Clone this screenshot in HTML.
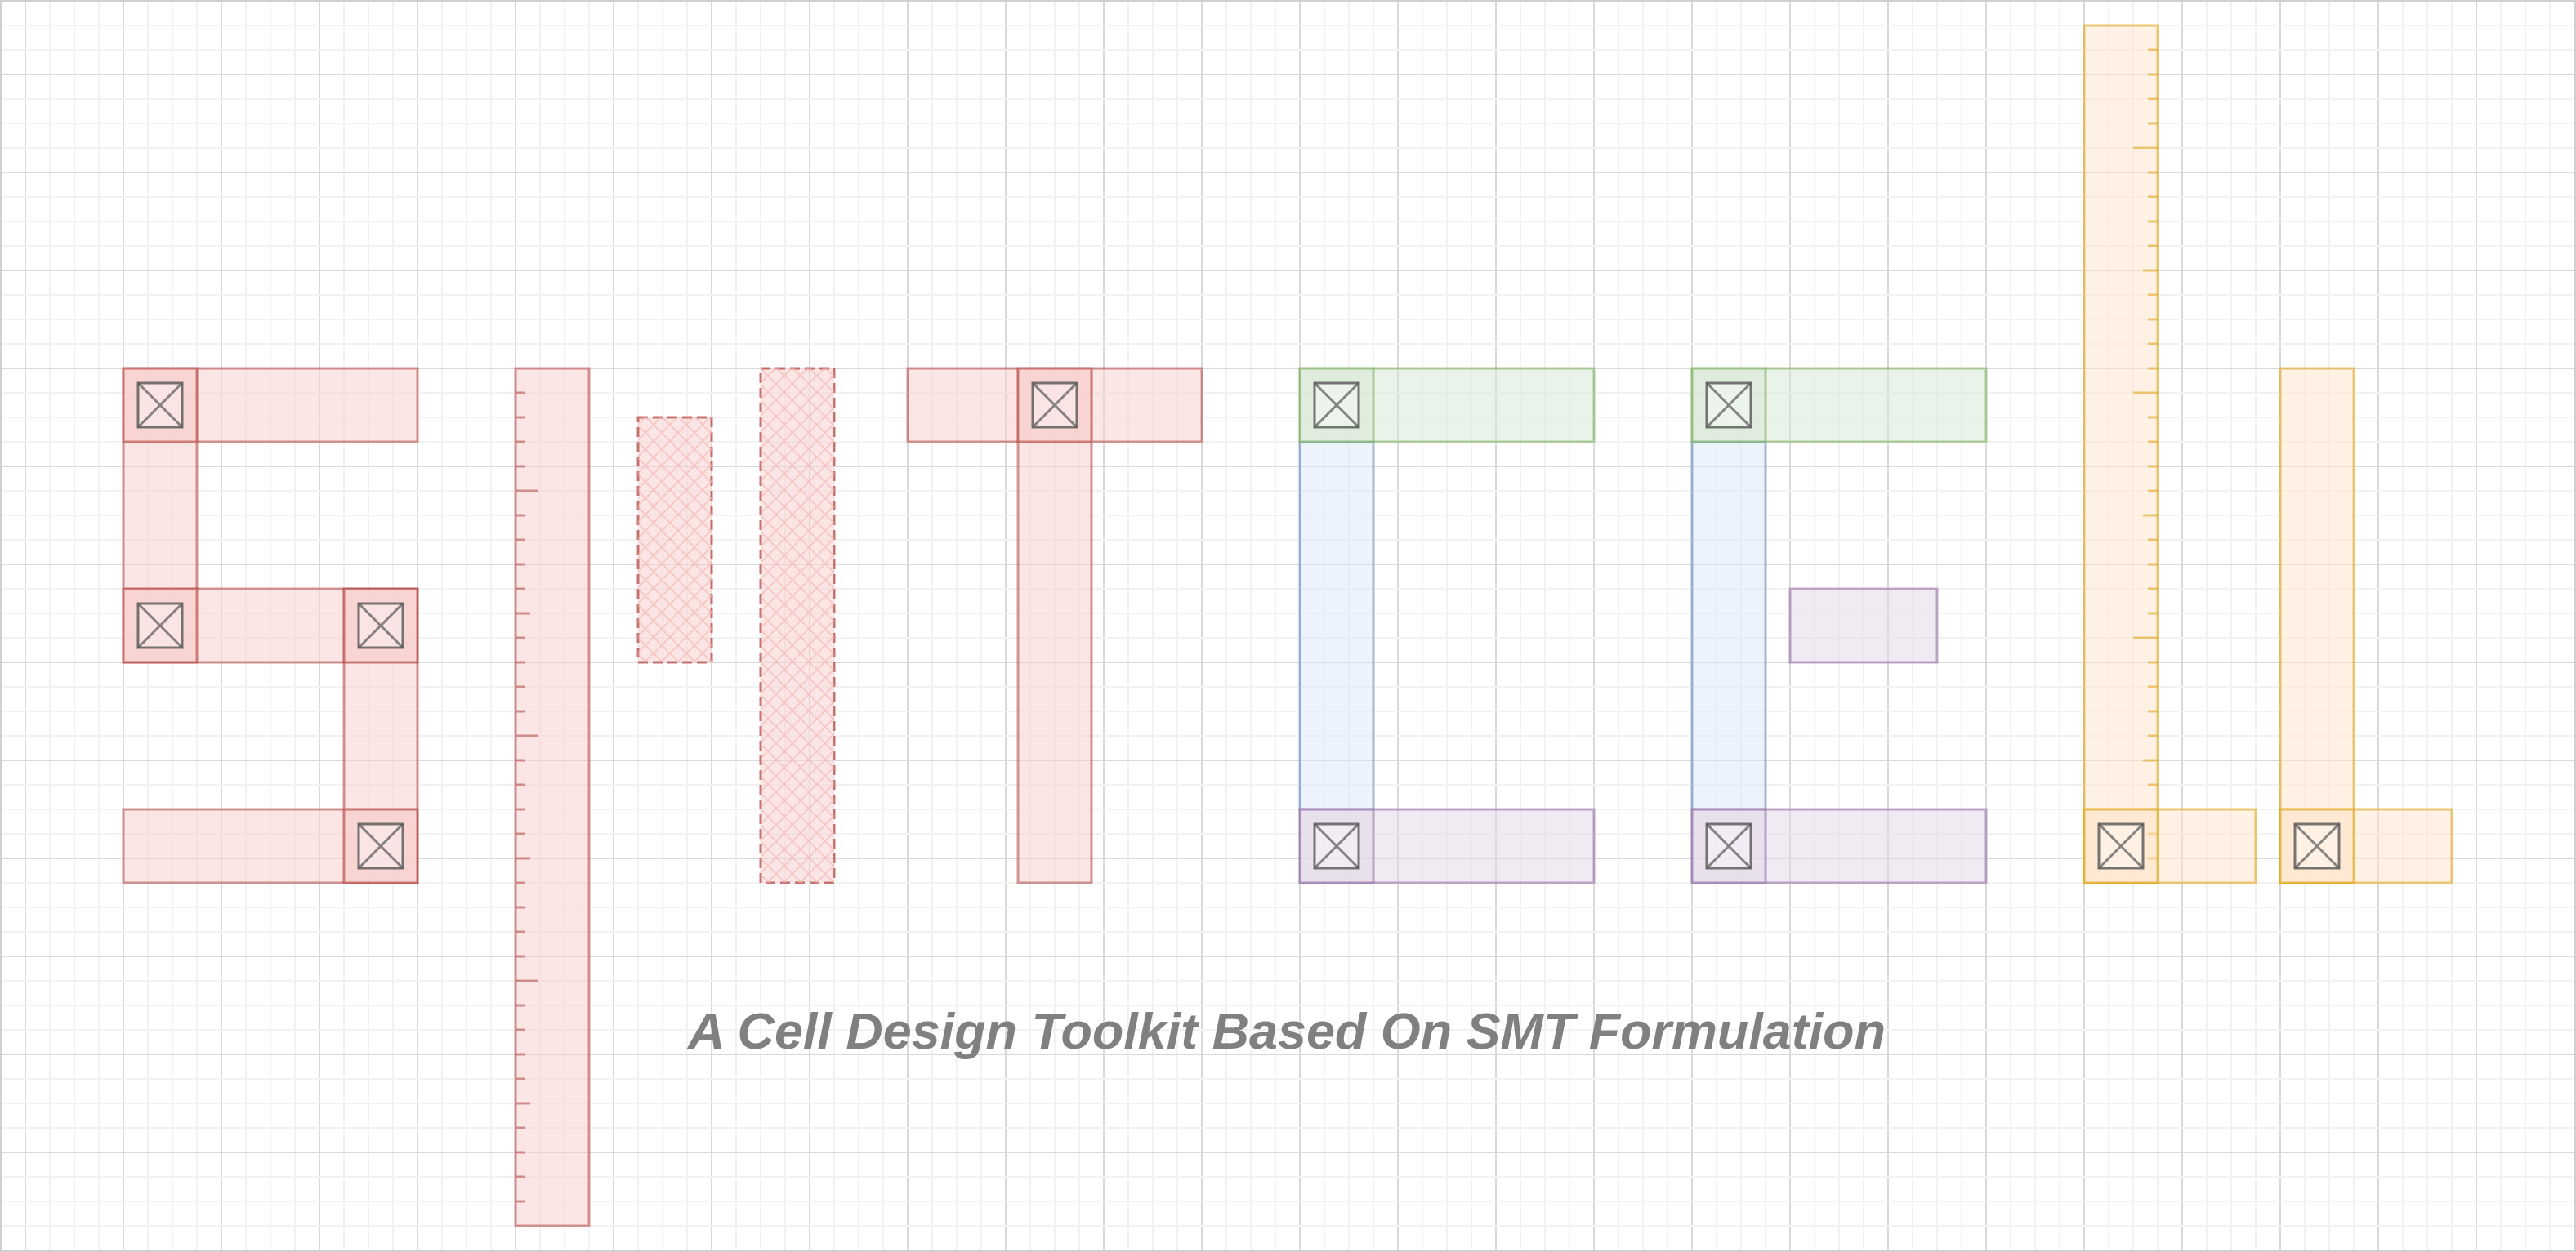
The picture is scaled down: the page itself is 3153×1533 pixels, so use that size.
<!DOCTYPE html>
<html><head><meta charset="utf-8"><style>
html,body{margin:0;padding:0;background:#fff;}
svg{display:block;}
</style></head><body>
<svg id="c" xmlns="http://www.w3.org/2000/svg" width="3153" height="1533" viewBox="0 0 3153 1533">
<defs>
<pattern id="hatch" width="20" height="20" patternUnits="userSpaceOnUse">
<path d="M0 0L20 20M20 0L0 20" stroke="#f3b4b0" stroke-width="2" opacity="0.6"/>
</pattern>
</defs>
<g id="grid"></g>
<g id="shapes"></g>
<g id="ticks"></g>
<g id="contacts"></g>
<text x="1575" y="1284" text-anchor="middle" font-family="Liberation Sans, sans-serif" font-weight="bold" font-style="italic" font-size="62" fill="#808080" textLength="1466" lengthAdjust="spacingAndGlyphs">A Cell Design Toolkit Based On SMT Formulation</text>
<rect x="1" y="1" width="3151" height="1531" fill="none" stroke="#d0d0d0" stroke-width="2"/>
</svg>
<script>
const NS="http://www.w3.org/2000/svg";
// rect data: x, y, w, h, layer
const rectX=[151,151,151,421,151, 631, 781,931, 1111,1246, 1591,1591,1591, 2071,2071,2071,2191, 2551,2551, 2791,2791];
const rectY=[451,451,721,721,991, 451, 511,451, 451,451, 451,541,991, 451,541,991,721, 31,991, 451,991];
const rectW=[360,90,360,90,360, 90, 90,90, 360,90, 360,90,360, 360,90,360,180, 90,210, 90,210];
const rectH=[90,360,90,360,90, 1050, 300,630, 90,630, 90,450,90, 90,450,90,90, 1050,90, 630,90];
const rectLayer=['r','r','r','r','r','r','rh','rh','r','r','g','b','p','g','b','p','p','o','o','o','o'];
const contactX=[151,151,421,421,1246,1591,1591,2071,2071,2551,2791];
const contactY=[451,721,721,991,451,451,991,451,991,991,991];
const contactLayer=['r','r','r','r','r','g','p','g','p','o','o'];
const styles={r:['#f8cecc','#b85450'],rh:['#f8cecc','#b85450'],g:['#d5e8d4','#82b366'],b:['#dae8fc','#6c8ebf'],p:['#e1d5e7','#9673a6'],o:['#ffe6cc','#e0a820']};
const names={r:'poly',rh:'poly-hatched',g:'metal-green',b:'metal-blue',p:'metal-purple',o:'metal-orange'};
function el(t,a,p){const e=document.createElementNS(NS,t);for(const k in a)e.setAttribute(k,a[k]);p.appendChild(e);return e;}
// grid
const grid=document.getElementById('grid');
for(let x=1;x<3153;x+=30){const maj=((x-31)%120===0);const l=el('line',{x1:x,y1:0,x2:x,y2:1533,stroke:maj?'#d9d9d9':'#f2f2f2','stroke-width':maj?2:2},grid);

}
for(let y=1;y<1533;y+=30){const maj=((y-91)%120===0);const l=el('line',{x1:0,y1:y,x2:3153,y2:y,stroke:maj?'#d9d9d9':'#f2f2f2','stroke-width':2},grid);

}
// shapes
const sh=document.getElementById('shapes');
for(let i=0;i<rectX.length;i++){const s=styles[rectLayer[i]];
const r=el('rect',{x:rectX[i],y:rectY[i],width:rectW[i],height:rectH[i],fill:s[0],'fill-opacity':0.5,stroke:s[1],'stroke-opacity':0.6,'stroke-width':3},sh);


if(rectLayer[i]==='rh'){r.setAttribute('stroke-dasharray','12 6');r.setAttribute('stroke-opacity','0.8');
const h=el('rect',{x:rectX[i],y:rectY[i],width:rectW[i],height:rectH[i],fill:'url(#hatch)'},sh);

}}
// ruler ticks
const tk=document.getElementById('ticks');
const redTickY=[];for(let y=481;y<=1471;y+=30)redTickY.push(y);
const orTickY=[];for(let y=61;y<=1051;y+=30)orTickY.push(y);
redTickY.forEach(y=>{const k=(y-451)/30;let len=12;if(k%5===0)len=(k%10===5)?28:18;
const l=el('line',{x1:631,y1:y,x2:631+len,y2:y,stroke:'#b85450','stroke-opacity':0.6,'stroke-width':3},tk);

});
orTickY.forEach(y=>{const k=(y-31)/30;let len=12;if(k%5===0)len=(k%10===5)?30:18;
const l=el('line',{x1:2641,y1:y,x2:2641-len,y2:y,stroke:'#e0a820','stroke-opacity':0.6,'stroke-width':3},tk);

});
// contacts
const ct=document.getElementById('contacts');
for(let i=0;i<contactX.length;i++){const s=styles[contactLayer[i]];const x=contactX[i],y=contactY[i];
const g=el('g',{},ct);


el('rect',{x:x,y:y,width:90,height:90,fill:s[0],'fill-opacity':0.5,stroke:s[1],'stroke-opacity':0.6,'stroke-width':3},g);
el('rect',{x:x+18,y:y+18,width:54,height:54,fill:'#ffffff','fill-opacity':0.4,stroke:'#555','stroke-opacity':0.8,'stroke-width':3},g);
el('path',{d:`M${x+18} ${y+18}L${x+72} ${y+72}M${x+72} ${y+18}L${x+18} ${y+72}`,stroke:'#555','stroke-opacity':0.7,'stroke-width':3},g);}
</script>
</body></html>
